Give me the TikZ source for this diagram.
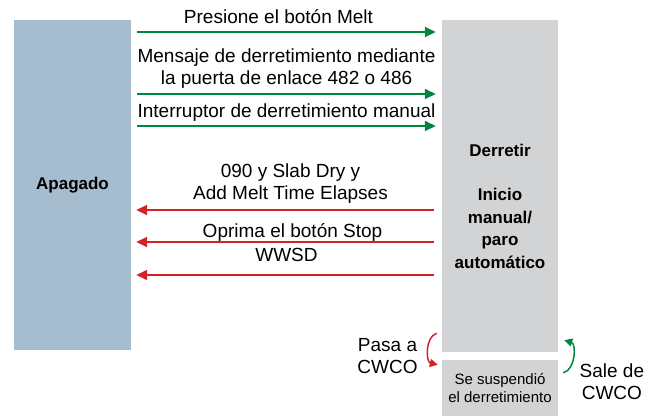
\documentclass[tikz,border=0pt]{standalone}
\usepackage{fontspec}
\setmainfont{Liberation Sans}
\usetikzlibrary{positioning,arrows.meta,calc}
\definecolor{offblue}{HTML}{A6BCCF}
\definecolor{meltgrey}{HTML}{D1D3D4}
\definecolor{gostroke}{HTML}{00873E}
\definecolor{stopstroke}{HTML}{D2232A}
\tikzset{
  state/.style   = {inner sep=0pt, align=center},
  offst/.style   = {state, fill=offblue, minimum width=117pt, minimum height=330pt,
                    font=\fontsize{17}{22.5}\selectfont\bfseries},
  meltst/.style  = {state, fill=meltgrey, minimum width=116pt, minimum height=332pt},
  suspst/.style  = {state, fill=meltgrey, minimum width=116pt, minimum height=56pt,
                    font=\fontsize{15}{18.5}\selectfont},
  boldtxt/.style = {align=center, inner sep=0pt, font=\fontsize{17}{22.5}\selectfont\bfseries},
  arr/.style     = {-{Triangle[length=11pt,width=10pt]}, line width=1.6pt},
  goarr/.style   = {arr, draw=gostroke, shorten <=6pt, shorten >=6pt},
  stoparr/.style = {arr, draw=stopstroke, shorten <=8pt, shorten >=5pt},
  bendarr/.style = {-{Triangle[length=8pt,width=8pt]}, line width=1.5pt},
  lab/.style     = {font=\fontsize{19}{22}\selectfont, align=center, inner sep=0pt,
                    text depth=0pt, midway},
}

\begin{document}
\begin{tikzpicture}[x=1pt, y=-1pt]
  \useasboundingbox (0,0) rectangle (655,416);

  % ---------------- States ----------------
  \node[offst]  (apag) at (72.5,185) {Apagado};
  \node[meltst] (melt) at (500,186) {};
  \node[boldtxt] (melttxt) at ([yshift=-20pt]melt.center)
        {Derretir\\[22pt]Inicio\\manual/\\paro\\automático};
  \node[suspst] (susp) at (500,388) {Se suspendió\\el derretimiento};

  % ---------------- Off -> Melt ----------------
  \draw[goarr] (apag.east |- 0,32) --
        node[lab, above=8pt, xshift=-8pt]{Presione el botón Melt} (melt.west |- 0,32);
  \draw[goarr] (apag.east |- 0,94) --
        node[lab, above=9pt]{Mensaje de derretimiento mediante\\la puerta de enlace 482 o 486} (melt.west |- 0,94);
  \draw[goarr] (apag.east |- 0,126) --
        node[lab, above=8pt]{Interruptor de derretimiento manual} (melt.west |- 0,126);

  % ---------------- Melt -> Off ----------------
  \draw[stoparr] (melt.west |- 0,210) --
        node[lab, above=10pt, xshift=4pt]{090 y Slab Dry y\\Add Melt Time Elapses} (apag.east |- 0,210);
  \draw[stoparr] (melt.west |- 0,242) --
        node[lab, above=4pt, xshift=6pt]{Oprima el botón Stop} (apag.east |- 0,242);
  \draw[stoparr] (melt.west |- 0,275) --
        node[lab, above=13pt]{WWSD} (apag.east |- 0,275);

  % ---------------- CWCO ----------------
  \draw[bendarr, draw=stopstroke] ([xshift=-5pt, yshift=19pt]melt.south west)
        to[bend right=75] node[lab, left=10pt, yshift=-7pt]{Pasa a\\CWCO}
        ([xshift=-4pt, yshift=-5pt]susp.north west);
  \draw[bendarr, draw=gostroke] ([xshift=5pt, yshift=-13pt]susp.north east)
        to[bend right=75] node[lab, right=6pt, yshift=-25pt]{Sale de\\CWCO}
        ([xshift=6pt, yshift=12pt]melt.south east);
\end{tikzpicture}
\end{document}
